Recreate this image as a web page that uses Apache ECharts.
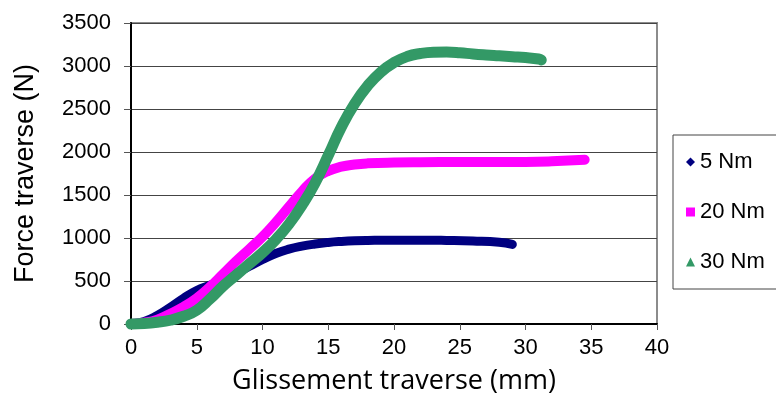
<!DOCTYPE html>
<html>
<head>
<meta charset="utf-8">
<script src="https://cdn.jsdelivr.net/npm/echarts@6/dist/echarts.min.js"></script>
<style>
html, body { margin: 0; padding: 0; background: #fff; }
#chart { width: 776px; height: 403px; }
</style>
</head>
<body>
<div id="chart"></div>
<script>
var seriesNames = ['5 Nm', '20 Nm', '30 Nm'];

var x5 = [0, 1, 2, 3, 4, 5, 6, 7, 8, 9, 10, 11, 12, 13, 14, 15, 16, 17, 18, 20, 22, 24, 26, 28, 29];
var y5 = [0, 30, 100, 195, 300, 390, 450, 510, 590, 670, 750, 820, 870, 905, 930, 948, 960, 968, 972, 975, 975, 972, 965, 950, 925];

var x20 = [0, 1, 2, 3, 4, 5, 6, 7, 8, 9, 10, 11, 12, 13, 14, 15, 16, 17, 18, 20, 22, 25, 28, 30, 32, 34.5];
var y20 = [0, 15, 50, 120, 200, 300, 430, 580, 730, 870, 1015, 1180, 1360, 1540, 1690, 1780, 1830, 1855, 1868, 1878, 1882, 1884, 1884, 1885, 1892, 1910];

var x30 = [0, 1, 2, 3, 4, 5, 6, 7, 8, 9, 10, 11, 12, 13, 14, 15, 16, 17, 18, 19, 20, 21, 22, 23, 24, 25, 26, 27, 28, 29, 30, 31, 31.2];
var y30 = [0, 5, 20, 45, 90, 160, 290, 440, 570, 700, 830, 980, 1160, 1380, 1640, 1960, 2290, 2560, 2770, 2930, 3040, 3110, 3145, 3160, 3162, 3155, 3140, 3128, 3118, 3108, 3098, 3082, 3070];

var colors = ['#000080', '#ff00ff', '#339966'];
var icons = ['diamond', 'rect', 'triangle'];
var widths = [9, 10, 11];

function pairs(xs, ys) {
    var out = [];
    for (var i = 0; i < xs.length; i++) out.push([xs[i], ys[i]]);
    return out;
}

var allData = [pairs(x5, y5), pairs(x20, y20), pairs(x30, y30)];

var chart = echarts.init(document.getElementById('chart'));

var series = [];
for (var s = 0; s < seriesNames.length; s++) {
    series.push({
        type: 'line',
        name: seriesNames[s],
        data: allData[s],
        smooth: true,
        showSymbol: false,
        clip: false,
        z: 2 + s,
        lineStyle: { color: colors[s], width: widths[s], cap: 'round', join: 'round' },
        itemStyle: { color: colors[s] }
    });
}

var tickFont = { fontFamily: 'Liberation Sans', fontSize: 22, color: '#000' };

chart.setOption({
    animation: false,
    backgroundColor: '#fff',
    grid: {
        left: 131, right: 119, top: 23, bottom: 79,
        show: true,
        borderColor: '#8c8c8c',
        borderWidth: 2,
        backgroundColor: 'transparent'
    },
    legend: {
        orient: 'vertical',
        left: 673,
        top: 135,
        padding: [16, 40, 16, 13],
        itemGap: 28,
        itemWidth: 9,
        itemHeight: 9,
        borderColor: '#444',
        borderWidth: 1,
        backgroundColor: '#fff',
        textStyle: { fontFamily: 'Liberation Sans', fontSize: 22, color: '#000' },
        data: seriesNames.map(function (n, i) { return { name: n, icon: icons[i] }; })
    },
    xAxis: {
        type: 'value',
        min: 0, max: 40, interval: 5,
        name: 'Glissement traverse (mm)',
        nameLocation: 'middle',
        nameGap: 44,
        nameTextStyle: { fontFamily: 'Open Sans', fontSize: 27, color: '#000' },
        axisLine: { show: true, onZero: false, lineStyle: { color: '#000', width: 2 } },
        axisTick: { show: true, inside: false, length: 6, lineStyle: { color: '#555', width: 1 } },
        axisLabel: Object.assign({ margin: 13, formatter: function (v) { return String(v); } }, tickFont),
        splitLine: { show: false }
    },
    yAxis: {
        type: 'value',
        min: 0, max: 3500, interval: 500,
        name: 'Force traverse (N)',
        nameLocation: 'middle',
        nameGap: 92,
        nameTextStyle: { fontFamily: 'Liberation Sans', fontSize: 27, color: '#000' },
        axisLine: { show: true, lineStyle: { color: '#000', width: 2 } },
        axisTick: { show: true, inside: false, length: 7, lineStyle: { color: '#555', width: 1 } },
        axisLabel: Object.assign({ margin: 20, formatter: function (v) { return String(v); } }, tickFont),
        splitLine: { show: true, lineStyle: { color: '#444', width: 1 } }
    },
    series: series
});
</script>
</body>
</html>
